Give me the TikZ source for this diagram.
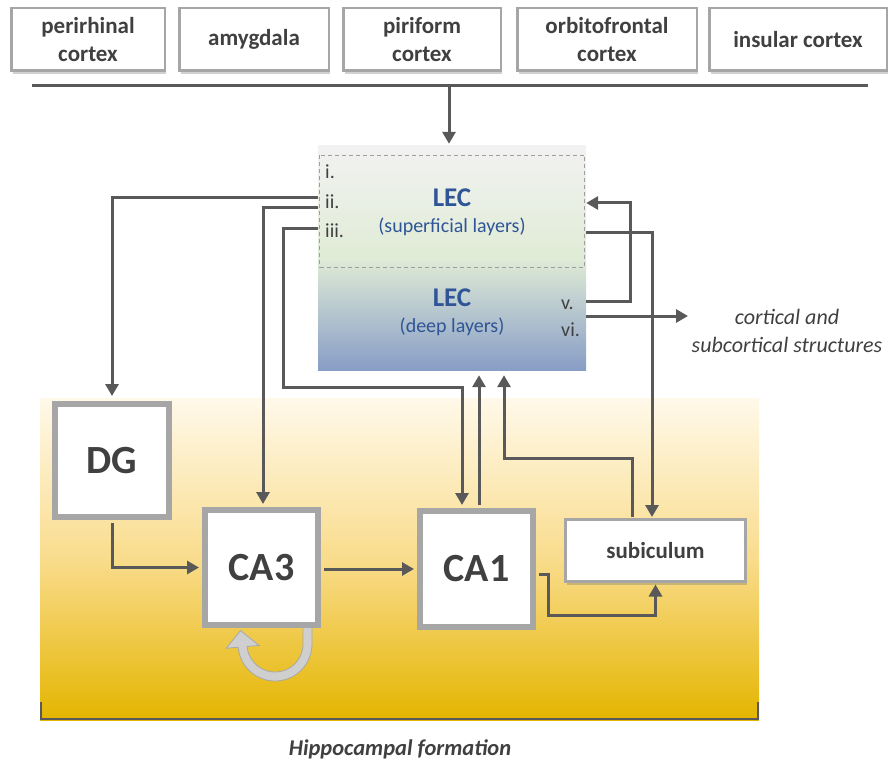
\documentclass[tikz,border=0pt]{standalone}
\usepackage{fontspec}
\setmainfont{Carlito}
\usetikzlibrary{shadows,calc,arrows.meta}
\definecolor{linegray}{HTML}{595959}
\definecolor{boxgray}{HTML}{A6A6A6}
\definecolor{txtgray}{HTML}{404040}
\definecolor{lecblue}{HTML}{2F5597}
\definecolor{lectop}{HTML}{F2F2F2}
\definecolor{lecmid}{HTML}{E0ECD6}
\definecolor{lecbot}{HTML}{889DC6}
\definecolor{hiptop}{HTML}{FFF9EA}
\definecolor{hipmid}{HTML}{F9DC8C}
\definecolor{hipbot}{HTML}{E4B500}
\definecolor{loopfill}{HTML}{CFCFCF}
\definecolor{loopedge}{HTML}{A8A8A8}
\begin{document}
\begin{tikzpicture}[x=1pt,y=-1pt,
  shadowed/.style={drop shadow={shadow xshift=1.5pt,shadow yshift=-3pt,opacity=0.3,fill=black!60}},
  topbox/.style={draw=boxgray,line width=2.5pt,fill=white,inner sep=0pt,minimum height=62.5pt,
    align=center,text=txtgray,font=\fontsize{23}{28}\selectfont\bfseries,shadowed},
  bigbox/.style={draw=boxgray,line width=6pt,fill=white,inner sep=0pt,
    text=txtgray,font=\fontsize{40}{48}\selectfont\bfseries,shadowed},
  conn/.style={draw=linegray,line width=3pt,-{Triangle[width=13pt,length=12pt]}},
  layerlbl/.style={anchor=west,inner sep=0pt,text=txtgray,font=\fontsize{20}{24}\selectfont},
  lectitle/.style={inner sep=0pt,text=lecblue,font=\fontsize{27}{32}\selectfont\bfseries},
  lecsub/.style={inner sep=0pt,text=lecblue,font=\fontsize{20}{24}\selectfont}]
\useasboundingbox (0,0) rectangle (893,767);

% top boxes
\node[topbox,minimum width=153.5pt] (peri) at (88,39.5) {perirhinal\\cortex};
\node[topbox,minimum width=149.5pt] (amyg) at (254,39.5) {amygdala};
\node[topbox,minimum width=157.5pt] (piri) at (422,39.5) {piriform\\cortex};
\node[topbox,minimum width=179.5pt] (orbi) at (607,39.5) {orbitofrontal\\cortex};
\node[topbox,minimum width=177.5pt] (insu) at (798,39.5) {insular cortex};

\coordinate (barL) at (32,86);
\coordinate (barR) at (868,86);
\coordinate (barM) at (449,86);
\draw[linegray,line width=3pt] (barL) -- (barR);

% hippocampal formation background
\node[inner sep=0pt,minimum width=719pt,minimum height=322pt,shade,
  top color=hiptop,bottom color=hipbot,middle color=hipmid] (hip) at (399.5,559) {};
\draw[linegray,line width=2.5pt] (41,702) -- (41,719) -- (758,719) -- (758,702);
\node[text=txtgray,font=\fontsize{22.5}{26}\selectfont\bfseries\itshape] (hiplbl) at (400,749) {Hippocampal formation};

% LEC
\node[inner sep=0pt,minimum width=268pt,minimum height=224pt,shade,
  top color=lectop,bottom color=lecbot,middle color=lecmid] (LEC) at (452,258) {};
\draw[gray!75,line width=0.9pt,dash pattern=on 4pt off 3pt] (319.5,155) rectangle (584.5,267);
\node[layerlbl] (l1) at (325,172) {i.};
\node[layerlbl] (l2) at (325,202) {ii.};
\node[layerlbl] (l3) at (325,231) {iii.};
\node[layerlbl] (l5) at (561,305) {v.};
\node[layerlbl] (l6) at (561,330) {vi.};
\node[lectitle] (lecs) at (452,198) {LEC};
\node[lecsub] (lecss) at (452,227) {(superficial layers)};
\node[lectitle] (lecd) at (452,298) {LEC};
\node[lecsub] (lecds) at (452,327) {(deep layers)};

% CA3 recurrent loop
\fill[loopfill,draw=loopedge,line width=0.8pt]
  (312,626) -- (312,644)
  -- plot[domain=0:175,samples=40] ({275+37*cos(\x)},{644+37*sin(\x)})
  -- ({275+49*cos(175)},{644+49*sin(175)})
  -- (240.5,630.5)
  -- ({275+16*cos(175)},{644+16*sin(175)})
  -- plot[domain=175:0,samples=40] ({275+28*cos(\x)},{644+28*sin(\x)})
  -- (303,626) -- cycle;

% hippocampal boxes
\node[bigbox,minimum width=114pt,minimum height=113pt] (DG) at (112,460.5) {DG};
\node[bigbox,minimum width=113pt,minimum height=115pt] (CA3) at (261.5,567.5) {CA3};
\node[bigbox,minimum width=113pt,minimum height=116pt] (CA1) at (476.5,569) {CA1};
\node[draw=boxgray,line width=3pt,fill=white,inner sep=0pt,minimum width=180pt,minimum height=62pt,
  text=txtgray,font=\fontsize{23}{28}\selectfont\bfseries,shadowed] (SUB) at (655.5,550.5) {subiculum};

% connectors
\draw[conn,shorten >=2pt] (barM) -- (barM |- LEC.north);
\draw[conn,shorten >=5pt] (LEC.west |- 0,198) -| (DG.north);
\draw[conn,shorten >=3pt] (LEC.west |- 0,208) -| ([xshift=1.5pt]CA3.north);
\coordinate (ca1in) at ($(CA1.north)+(-14.5,0)$);
\draw[conn,shorten >=3pt] (LEC.west |- 0,229) -| (283,387) -| (ca1in);
\coordinate (ca1up) at ($(CA1.north)+(2.5,0)$);
\draw[conn,shorten <=3pt,shorten >=5pt] (ca1up) -- (ca1up |- LEC.south);
\coordinate (subup) at ($(SUB.north)+(-23.5,0)$);
\draw[conn,shorten <=1.5pt,shorten >=5pt] (subup) -- (subup |- 0,458) -| (LEC.south -| 504,0);
\coordinate (subin) at ($(SUB.north)+(-3.5,0)$);
\draw[conn,shorten >=1pt] (LEC.east |- 0,233) -| (subin);
\draw[conn] (LEC.east |- 0,301) -| (630,203) -- (LEC.east |- 0,203);
\coordinate (cortout) at (688,316);
\draw[conn] (LEC.east |- 0,316) -- (cortout);
\node[align=center,text=txtgray,font=\fontsize{22}{28}\selectfont\itshape] (cort) at (787,331) {cortical and\\subcortical structures};
\draw[conn,shorten <=3pt,shorten >=3pt] (DG.south) |- (CA3.west);
\draw[conn,shorten <=3pt,shorten >=3pt] ([yshift=-1.5pt]CA3.east) -- ([yshift=-1.5pt]CA3.east -| CA1.west);
\draw[conn,shorten <=3pt,shorten >=1.5pt] (CA1.east |- 0,574) -| (548,615) -| (SUB.south);
\end{tikzpicture}
\end{document}
